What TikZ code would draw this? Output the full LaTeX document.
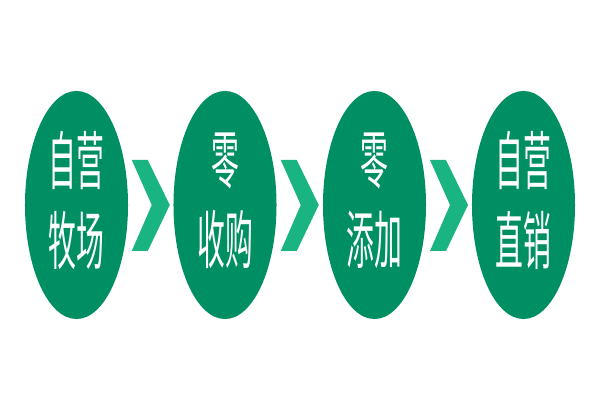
\documentclass[tikz,border=0pt]{standalone}
\usepackage{fontspec}
\usetikzlibrary{shapes.geometric,calc}
\newfontfamily\cjk[FakeStretch=0.44]{Noto Sans CJK SC}
\definecolor{stagegreen}{RGB}{0,143,99}
\definecolor{arrowgreen}{RGB}{26,180,130}
\newcommand\lowstrut{\rule[-10pt]{0pt}{0pt}}

\begin{document}
\begin{tikzpicture}[x=0.025cm,y=-0.025cm,
  stage/.style={ellipse,fill=stagegreen,inner sep=0,minimum width=2.575cm,minimum height=5.7cm,
    text=white,align=center,font=\cjk\fontsize{45}{57}\selectfont}]
\useasboundingbox (0,0) rectangle (600,400);
\foreach \x/\txt[count=\idx] in {76.5/{自营\\牧场}, 225/{零\\收购}, 374.5/{零\\添加}, 523.5/{自营\\直销}}{
    \node[stage] (s\idx) at (\x,205) {\txt\lowstrut};
}
\foreach \a/\b in {1/2,2/3,3/4}{
    \coordinate (m\a) at ($(s\a.east)!.5!(s\b.west)$);
    \fill[arrowgreen,shift={(m\a)}] (-19,-45) -- (-3,-45) -- (19,0) -- (-3,46) -- (-19,46) -- (1,0) -- cycle;
}
\end{tikzpicture}
\end{document}
